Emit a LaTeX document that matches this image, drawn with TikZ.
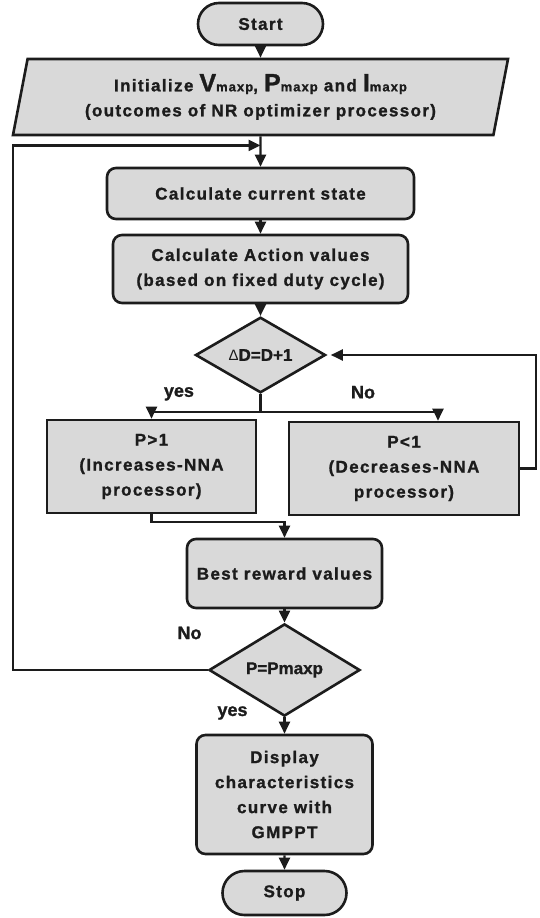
\documentclass[tikz,border=0pt]{standalone}
\usepackage{fontspec}
\setmainfont{Liberation Sans}[BoldFeatures={FakeBold=1.2}]
\newfontfamily\trackedfont{Liberation Sans}[LetterSpace=8,BoldFeatures={FakeBold=1.2}]
\usetikzlibrary{calc,positioning,shapes.geometric,shapes.misc,arrows.meta}
\definecolor{boxgray}{RGB}{217,217,217}
\definecolor{ink}{RGB}{28,28,28}
\newcommand{\withmaxp}[1]{{\fontsize{25}{25}\selectfont #1}{\fontsize{13}{25}\selectfont maxp}}

\begin{document}
\begin{tikzpicture}[x=1pt,y=1pt,
  every node/.style={text=ink,font=\bfseries\fontsize{18}{25}\selectfont},
  box/.style={draw=ink,line width=2.6pt,fill=boxgray,align=center,inner sep=1pt,
    font=\trackedfont\bfseries\fontsize{17}{25}\selectfont},
  term/.style={box,rounded rectangle},
  proc/.style={box,rectangle,rounded corners=9pt},
  plain/.style={box,rectangle},
  io/.style={box,trapezium,trapezium left angle=73,trapezium right angle=107,trapezium stretches body},
  cond/.style={box,diamond,inner sep=0pt,font=\bfseries\fontsize{17}{20}\selectfont},
  flow/.style={draw=ink,line width=2.2pt},
  arr/.style={flow,-{Triangle[length=12pt,width=11pt]}}]

\useasboundingbox (-260.5,24) rectangle (278.5,-894);

\begin{scope}[on grid]
\node[term,minimum width=127pt,minimum height=42pt] (start) {Start};
\node[io,minimum width=495pt,minimum height=76pt,below=73pt of start] (init)
  {Initialize \withmaxp{V}, \withmaxp{P} and \withmaxp{I}\\(outcomes of NR optimizer processor)};
\node[proc,minimum width=307pt,minimum height=51pt,below=96.5pt of init] (calc) {Calculate current state};
\node[proc,minimum width=295pt,minimum height=68pt,below=75.5pt of calc] (action)
  {Calculate Action values\\(based on fixed duty cycle)};
\node[cond,minimum width=130pt,minimum height=50pt,below=86pt of action] (dd)
  {{\mdseries\fontsize{15}{20}\selectfont Δ}D=D+1};
\node[plain,minimum width=209pt,minimum height=93pt,below left=111.5pt and 109pt of dd] (pinc)
  {P>1\\(Increases-NNA\\processor)};
\node[plain,minimum width=230pt,minimum height=93pt,below right=113.5pt and 143.5pt of dd] (pdec)
  {P<1\\(Decreases-NNA\\processor)};
\node[proc,minimum width=195pt,minimum height=69pt,below right=218.5pt and 24pt of dd] (best) {Best reward values};
\node[cond,minimum width=151pt,minimum height=80pt,below=96.5pt of best] (pmax) {P=Pmaxp};
\node[proc,minimum width=176pt,minimum height=119pt,below=124.5pt of pmax] (disp)
  {Display\\characteristics\\curve with\\GMPPT};
\node[term,minimum width=126pt,minimum height=44pt,below=98.5pt of disp] (stop) {Stop};

\coordinate (split) at ([yshift=-18pt]dd.south);
\node (yes1) [above left=8pt and 63pt of split] {yes};
\node (no1) [above right=10pt and 87pt of split] {No};
\node (no2) [above left=37pt and 95pt of pmax] {No};
\node (yes2) [below left=43pt and 52pt of pmax] {yes};
\end{scope}

\coordinate (loopin) at ($(init.south)!0.3!(calc.north)$);

\draw[arr] (start) -- (init);
\draw[arr] (init) -- (calc);
\draw[arr] (calc) -- (action);
\draw[arr] (action) -- (dd);
\draw[flow] (dd) -- (split);
\draw[arr] (split) -| (pinc);
\draw[arr] (split) -| ([xshift=34pt]pdec.north);
\draw[arr,shorten >=4pt] (pdec.east) -- ++(16pt,0) |- (dd.east);
\draw[arr] (pinc.south) -- ++(0,-8pt) -| (best.north);
\draw[arr] (best) -- (pmax);
\draw[arr] (pmax.west) -- ++(-195pt,0) |- (loopin);
\draw[arr] (pmax) -- (disp);
\draw[arr] (disp) -- (stop);

\end{tikzpicture}
\end{document}
